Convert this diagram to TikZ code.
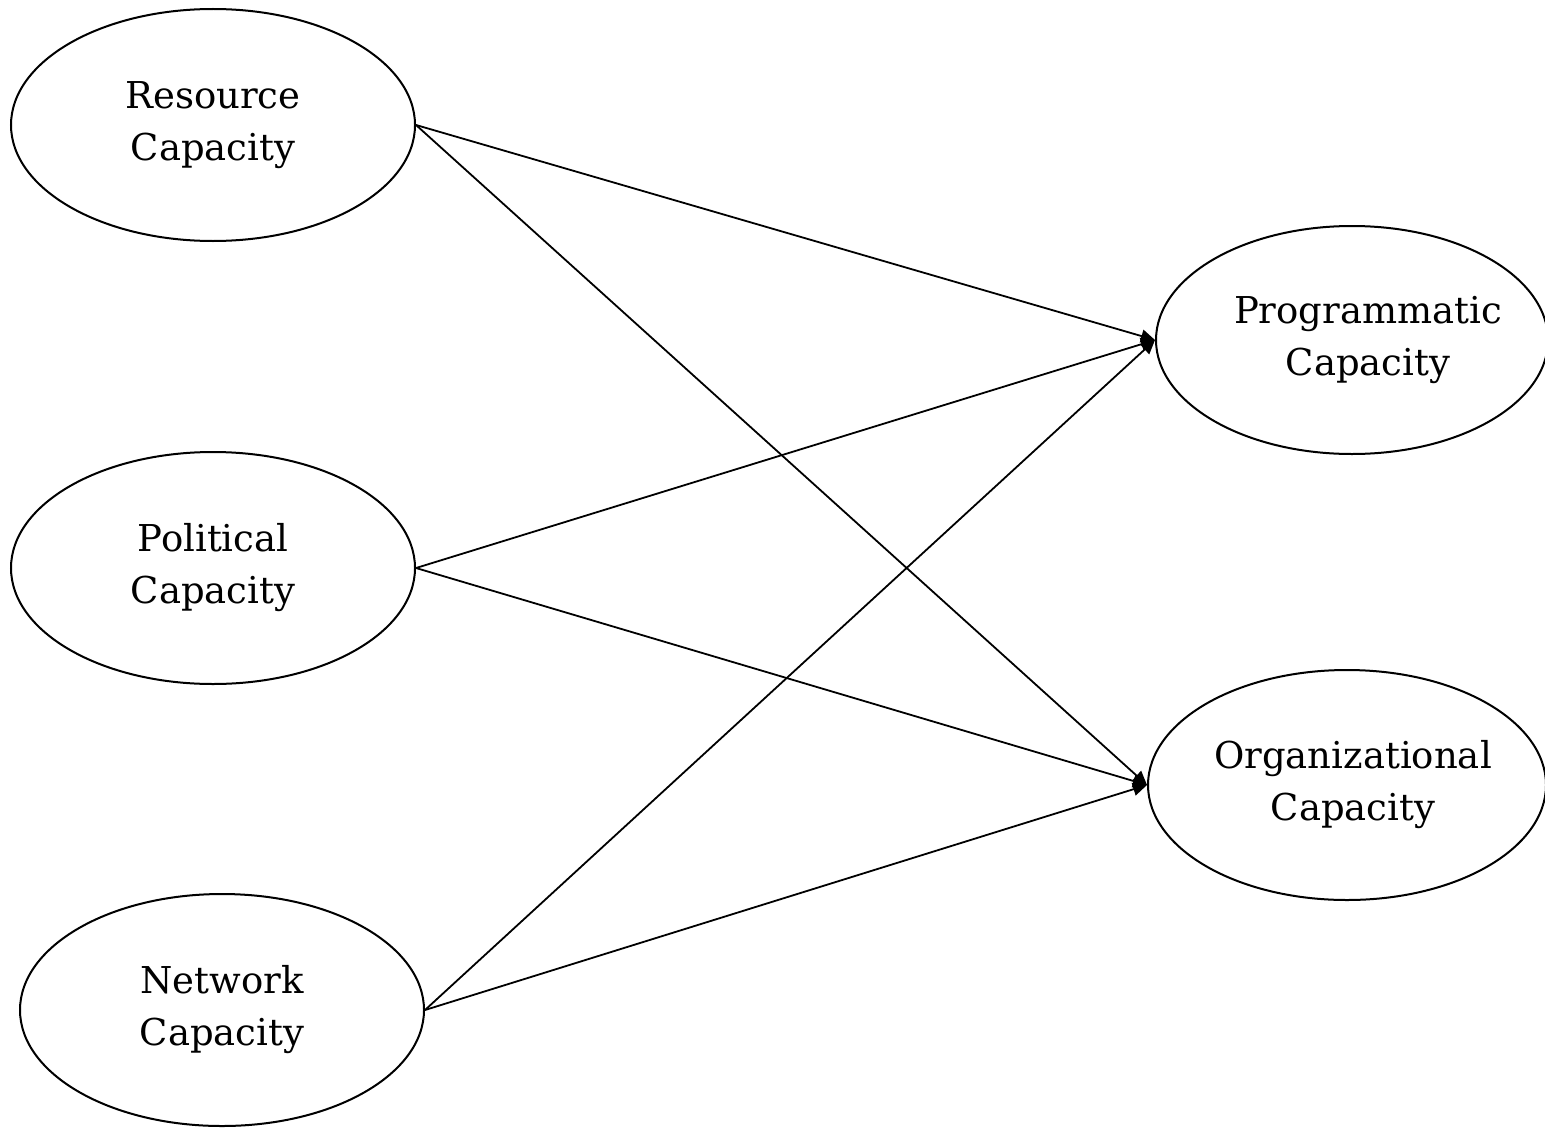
\documentclass[tikz,border=0pt]{standalone}
\usepackage{fontspec}
\setmainfont{DejaVu Serif}
\usetikzlibrary{shapes.geometric, arrows.meta}

\begin{document}
\begin{tikzpicture}[x=0.5pt, y=-0.5pt,
    capacity/.style={ellipse, draw, line width=1pt, minimum width=202pt, minimum height=116pt,
                     inner xsep=-10pt, inner ysep=0pt, align=center, font=\fontsize{18.5}{26}\selectfont},
    path/.style={line width=0.9pt, -{Triangle[length=7pt, width=6.5pt]}}]
                        % Marco
                        \useasboundingbox (0,0) rectangle (1545,1129);

                        % Capacidades de entrada
                        \node[capacity] (resource) at (213,125) {Resource\\Capacity};
                        \node[capacity] (political) at (213,568) {Political\\Capacity};
                        \node[capacity] (network) at (222,1010) {Network\\Capacity};

                        % Capacidades de salida
                        \node[capacity, minimum width=196pt, minimum height=114pt] (programmatic) at (1352,340) {\hspace*{16pt}Programmatic\\\hspace*{16pt}Capacity};
                        \node[capacity, minimum width=199pt, minimum height=115pt] (organizational) at (1347,785) {\hspace*{6pt}Organizational\\\hspace*{6pt}Capacity};

                        % Flechas
                        \draw[path] (resource.east) -- (programmatic.west);
                        \draw[path] (resource.east) -- (organizational.west);
                        \draw[path] (political.east) -- (programmatic.west);
                        \draw[path] (political.east) -- (organizational.west);
                        \draw[path] (network.east) -- (programmatic.west);
                        \draw[path] (network.east) -- (organizational.west);
                    \end{tikzpicture}
\end{document}
